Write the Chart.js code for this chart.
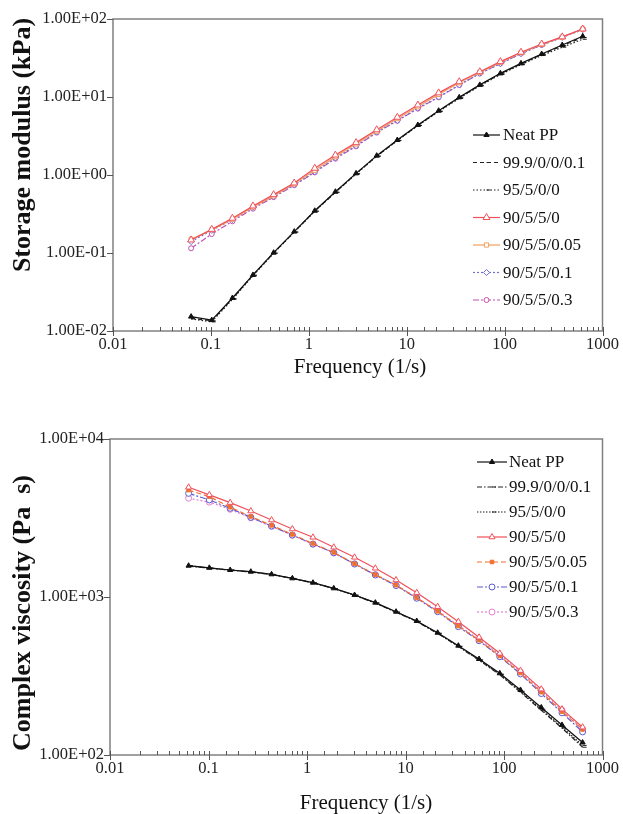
<!DOCTYPE html>
<html>
<head>
<meta charset="utf-8">
<script src="https://cdn.jsdelivr.net/npm/chart.js@4.4.1/dist/chart.umd.min.js"></script>
<style>
  body { margin: 0; background: #fff; }
  .box { position: absolute; left: 0; width: 623px; }
</style>
</head>
<body>
<div class="box" style="top:0;height:410px"><canvas id="gChart" width="623" height="410"></canvas></div>
<div class="box" style="top:410px;height:404px"><canvas id="etaChart" width="623" height="404"></canvas></div>
<script>
// frequency sweep points (1/s)
const freq = [0.0628, 0.102, 0.166, 0.269, 0.437, 0.71, 1.15, 1.87, 3.04, 4.94,
              8.02, 13.0, 21.2, 34.4, 55.8, 90.6, 147, 239, 388, 628];

const samples = ['Neat PP', '99.9/0/0/0.1', '95/5/0/0', '90/5/5/0', '90/5/5/0.05', '90/5/5/0.1', '90/5/5/0.3'];

// storage modulus, kPa
const gNeat = [0.0153, 0.0138, 0.0265, 0.0523, 0.101, 0.188, 0.348, 0.61, 1.05, 1.77, 2.81, 4.38, 6.67, 9.9, 14.3, 20.1, 27.0, 35.6, 46.4, 60.0];
const g999  = [0.0146, 0.0135, 0.0260, 0.0520, 0.100, 0.186, 0.345, 0.60, 1.04, 1.75, 2.78, 4.33, 6.6, 9.8, 14.1, 19.8, 26.6, 35.0, 45.5, 58.0];
const g95   = [0.0143, 0.0131, 0.0255, 0.0510, 0.099, 0.185, 0.342, 0.60, 1.03, 1.74, 2.76, 4.30, 6.5, 9.6, 13.9, 19.4, 26.0, 34.0, 43.5, 55.0];
const g90   = [0.147, 0.201, 0.279, 0.401, 0.56, 0.79, 1.22, 1.80, 2.60, 3.80, 5.5, 7.9, 11.3, 15.7, 21.1, 28.4, 37.5, 47.8, 59.0, 74.5];
const g9005 = [0.150, 0.198, 0.272, 0.390, 0.54, 0.77, 1.15, 1.72, 2.50, 3.65, 5.3, 7.5, 10.8, 15.2, 20.7, 27.8, 37.0, 47.2, 58.5, 74.5];
const g901  = [0.140, 0.195, 0.268, 0.385, 0.53, 0.75, 1.10, 1.66, 2.37, 3.55, 5.0, 7.2, 10.0, 14.3, 20.1, 26.8, 36.0, 46.4, 58.0, 73.0];
const g903  = [0.115, 0.175, 0.255, 0.370, 0.52, 0.74, 1.08, 1.62, 2.33, 3.50, 4.95, 7.1, 9.9, 14.2, 20.0, 26.8, 36.0, 46.5, 58.5, 75.0];

// complex viscosity, Pa s
const eNeat = [1578, 1530, 1482, 1446, 1392, 1313, 1232, 1135, 1030, 921, 807, 705, 594, 492, 405, 329, 258, 200, 155, 120];
const e999  = [1570, 1520, 1478, 1440, 1388, 1310, 1228, 1130, 1025, 915, 800, 700, 588, 486, 398, 322, 250, 192, 148, 112];
const e95   = [1575, 1525, 1480, 1442, 1390, 1311, 1230, 1132, 1028, 918, 803, 702, 590, 488, 400, 325, 253, 195, 150, 115];
const e90   = [4946, 4430, 3955, 3500, 3070, 2693, 2387, 2066, 1783, 1520, 1282, 1065, 868, 698, 556, 440, 342, 261, 195, 150];
const e9005 = [4750, 4320, 3700, 3230, 2840, 2490, 2180, 1915, 1625, 1385, 1188, 988, 812, 655, 533, 423, 330, 250, 188, 145];
const e901  = [4530, 4114, 3642, 3192, 2813, 2466, 2163, 1906, 1617, 1378, 1181, 982, 807, 649, 529, 419, 326, 245, 185, 140];
const e903  = [4217, 3985, 3591, 3170, 2800, 2460, 2160, 1900, 1620, 1385, 1190, 990, 815, 660, 540, 430, 335, 255, 192, 146];

const serif = "'Liberation Serif', 'DejaVu Serif', serif";

const topStyles = [
  { color: '#111', dash: [], point: 'triangle', r: 3, fill: '#111' },
  { color: '#222', dash: [4, 3], point: 'dash', r: 4, fill: '#222' },
  { color: '#222', dash: [1.5, 2], point: 'dash', r: 4, fill: '#222' },
  { color: '#f0505a', dash: [], point: 'triangle', r: 4, fill: '#fff' },
  { color: '#f2a060', dash: [], point: 'rect', r: 3, fill: '#fff' },
  { color: '#7070d4', dash: [2, 2], point: 'rectRot', r: 3, fill: '#fff' },
  { color: '#c050b0', dash: [6, 2, 2, 2], point: 'circle', r: 2.5, fill: '#fff' }
];
const botStyles = [
  { color: '#111', dash: [], point: 'triangle', r: 3, fill: '#111' },
  { color: '#222', dash: [5, 2, 1.5, 2], point: 'dash', r: 4, fill: '#222' },
  { color: '#222', dash: [1.5, 1.5], point: 'dash', r: 4, fill: '#222' },
  { color: '#f0505a', dash: [], point: 'triangle', r: 3.5, fill: '#fff' },
  { color: '#f07030', dash: [5, 3], point: 'rect', r: 2.5, fill: '#f07030' },
  { color: '#5a5ad0', dash: [6, 2, 2, 2], point: 'circle', r: 3, fill: '#fff' },
  { color: '#e080d0', dash: [2, 2], point: 'circle', r: 3, fill: '#fff' }
];

function makeSets(series, styles) {
  return series.map((vals, i) => ({
    label: samples[i],
    data: freq.map((f, j) => ({ x: f, y: vals[j] })),
    showLine: true,
    tension: 0,
    borderColor: styles[i].color,
    borderDash: styles[i].dash,
    borderWidth: 1.2,
    pointStyle: styles[i].point,
    pointRadius: styles[i].r,
    pointBorderColor: styles[i].color,
    pointBackgroundColor: styles[i].fill,
    pointBorderWidth: 1
  }));
}

function isMajor(v) {
  const l = Math.log10(v);
  return Math.abs(l - Math.round(l)) < 1e-6;
}
function sciLabel(v) {
  if (!isMajor(v)) return '';
  const e = Math.round(Math.log10(v));
  return '1.00E' + (e < 0 ? '-' : '+') + String(Math.abs(e)).padStart(2, '0');
}
function freqLabel(v) {
  if (!isMajor(v)) return '';
  const e = Math.round(Math.log10(v));
  return e < 0 ? Math.pow(10, e).toFixed(-e) : String(Math.pow(10, e));
}

// frame, tick marks, titles and the legend inside the plot
const deco = {
  id: 'deco',
  afterDraw(chart, args, o) {
    const ctx = chart.ctx;
    const a = chart.chartArea;
    const xs = chart.scales.x, ys = chart.scales.y;
    ctx.save();
    ctx.strokeStyle = '#808080';
    ctx.lineWidth = 1.5;
    ctx.strokeRect(a.left, a.top, a.right - a.left, a.bottom - a.top);
    ctx.lineWidth = 1;
    ctx.strokeStyle = '#555';
    ctx.beginPath();
    xs.ticks.forEach(t => {
      const px = Math.round(xs.getPixelForValue(t.value)) + 0.5;
      if (isMajor(t.value)) { ctx.moveTo(px, a.bottom - 4); ctx.lineTo(px, a.bottom + 5); }
      else { ctx.moveTo(px, a.bottom - 4); ctx.lineTo(px, a.bottom); }
    });
    ys.ticks.forEach(t => {
      if (!isMajor(t.value)) return;
      const py = Math.round(ys.getPixelForValue(t.value)) + 0.5;
      ctx.moveTo(a.left - 6, py); ctx.lineTo(a.left, py);
    });
    ctx.stroke();

    // axis titles
    ctx.fillStyle = '#111';
    ctx.textAlign = 'center';
    ctx.textBaseline = 'middle';
    ctx.font = '21px ' + serif;
    ctx.fillText(o.xTitle, o.xTitleX, o.xTitleY);
    ctx.save();
    ctx.translate(o.yTitleX, o.yTitleY);
    ctx.rotate(-Math.PI / 2);
    ctx.font = 'bold 26px ' + serif;
    ctx.fillText(o.yTitle, 0, 0);
    ctx.restore();

    // legend
    const L = o.legend;
    ctx.font = L.font + ' ' + serif;
    ctx.textAlign = 'left';
    chart.data.datasets.forEach((ds, i) => {
      const y = L.y0 + i * L.dy;
      ctx.strokeStyle = ds.borderColor;
      ctx.lineWidth = 1.2;
      ctx.setLineDash(ds.borderDash);
      ctx.beginPath();
      ctx.moveTo(L.x0, y); ctx.lineTo(L.x1, y);
      ctx.stroke();
      ctx.setLineDash([]);
      ctx.fillStyle = ds.pointBackgroundColor;
      ctx.strokeStyle = ds.pointBorderColor;
      ctx.lineWidth = 1;
      Chart.helpers.drawPoint(ctx, { pointStyle: ds.pointStyle, radius: ds.pointRadius, borderWidth: 1, rotation: 0 }, (L.x0 + L.x1) / 2, y);
      ctx.fillStyle = '#111';
      ctx.fillText(ds.label, L.tx, y + 1);
    });
    ctx.restore();
  }
};

function makeChart(id, sets, yMin, yMax, box, decoOpts) {
  return new Chart(document.getElementById(id), {
    type: 'scatter',
    data: { datasets: sets },
    options: {
      responsive: false,
      animation: false,
      devicePixelRatio: 1,
      layout: { padding: { top: box.top, right: box.right, left: 0, bottom: 0 } },
      plugins: { legend: { display: false }, tooltip: { enabled: false }, deco: decoOpts },
      scales: {
        x: {
          type: 'logarithmic',
          min: 0.01, max: 1000,
          grid: { display: false, drawTicks: false, tickLength: 0 },
          border: { display: false },
          ticks: {
            autoSkip: false, maxRotation: 0, padding: 4,
            color: '#222', font: { family: serif, size: 16.5 },
            callback: v => freqLabel(v)
          },
          afterFit: s => { s.height = box.xh; }
        },
        y: {
          type: 'logarithmic',
          min: yMin, max: yMax,
          grid: { display: false, drawTicks: false, tickLength: 0 },
          border: { display: false },
          ticks: {
            autoSkip: false, padding: 6,
            color: '#222', font: { family: serif, size: 16.5 },
            callback: v => sciLabel(v)
          },
          afterFit: s => { s.width = box.yw; }
        }
      }
    },
    plugins: [deco]
  });
}

makeChart('gChart',
  makeSets([gNeat, g999, g95, g90, g9005, g901, g903], topStyles),
  0.01, 100,
  { top: 19, right: 16, xh: 79, yw: 113 },
  { xTitle: 'Frequency (1/s)', xTitleX: 360, xTitleY: 367,
    yTitle: 'Storage modulus (kPa)', yTitleX: 23, yTitleY: 145,
    legend: { x0: 473, x1: 500, tx: 503, y0: 135, dy: 27.5, font: '17px' } });

makeChart('etaChart',
  makeSets([eNeat, e999, e95, e90, e9005, e901, e903], botStyles),
  100, 10000,
  { top: 29, right: 19, xh: 59, yw: 110 },
  { xTitle: 'Frequency (1/s)', xTitleX: 366, xTitleY: 393,
    yTitle: 'Complex viscosity (Pa  s)', yTitleX: 23, yTitleY: 203,
    legend: { x0: 477, x1: 507, tx: 509, y0: 52, dy: 25, font: '17px' } });
</script>
</body>
</html>
